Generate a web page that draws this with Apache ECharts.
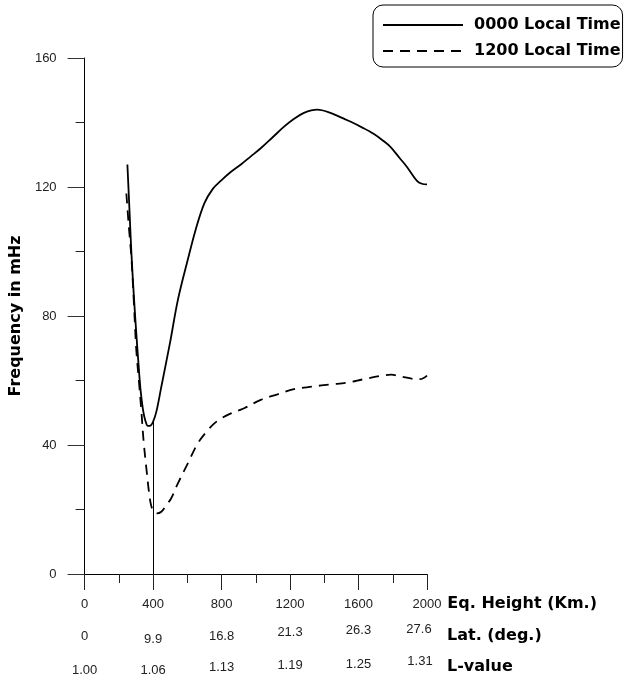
<!DOCTYPE html>
<html>
<head>
<meta charset="utf-8">
<script src="https://cdn.jsdelivr.net/npm/echarts@6/dist/echarts.min.js"></script>
<style>
html,body{margin:0;padding:0;background:#fff;}
#chart{width:625px;height:681px;}
</style>
</head>
<body>
<div id="chart"></div>
<script>
// ---- data ----
var seriesNames = ['0000 Local Time', '1200 Local Time'];

var night = [
  [250,127],[262,113],[273,100],[288,86],[302,74.6],[315,65],[327,57],[341,51],
  [355,47.5],[370,45.9],[385,46],[400,47.2],[420,50.5],[448,58],[500,72],[545,85],
  [603,97.5],[650,107],[700,115],[750,119.5],[797,122],[850,124.5],[913,127],
  [971,129.5],[1029,132],[1100,135.5],[1165,138.7],[1220,141],[1281,143],[1359,144],
  [1436,143],[1500,141.5],[1552,140.3],[1620,138.5],[1688,136.5],[1740,134.5],
  [1785,132.5],[1840,129],[1882,126.3],[1940,122],[1970,121],[2000,120.8]
];

var noon = [
  [244,118],[258,108],[273,98.4],[288,84],[302,69.5],[317,60],[331,51],[345,41],
  [362,32.2],[376,25.5],[390,21],[405,19.4],[422,18.8],[448,19.3],[480,21.5],
  [506,23.5],[545,28.1],[603,34.3],[661,40.5],[710,44],[758,46.7],[800,48.3],
  [855,49.8],[932,51.4],[1029,54],[1126,55.7],[1223,57.3],[1329,58.1],[1436,58.8],
  [1533,59.3],[1630,60.4],[1727,61.4],[1790,61.8],[1850,61.2],[1920,60.5],
  [1960,60.4],[2000,61.5]
];

var dividerX = 400;
var dividerTop = 47.2;

var heightLabels = ['0','400','800','1200','1600','2000'];
var latLabels = ['0','9.9','16.8','21.3','26.3','27.6'];
var lLabels = ['1.00','1.06','1.13','1.19','1.25','1.31'];
var rowNames = ['Eq. Height (Km.)', 'Lat. (deg.)', 'L-value'];
var yTicks = { min: 0, max: 160, step: 40 };
var xTicks = { min: 0, max: 2000, step: 400 };

// ---- styling ----
var FONT = '"Liberation Sans", Arial, Helvetica, sans-serif';
var BOLD_FONT = '"DejaVu Sans", "Liberation Sans", Arial, sans-serif';
var labelColor = '#222';

// per-label nudges (dx, dy in px) to mimic the reference's hand placement
var latNudge = [[0,0],[0,3],[0,0],[0,-4],[0,-6],[-8,-7]];
var lNudge = [[0,3],[0,3],[0,0],[0,-2],[0,-3],[-7,-6]];
var hNudge = [[0,0],[0,0],[0,0],[0,0],[0,0],[0,0]];

function makeRich(nudges) {
  var rich = {};
  nudges.forEach(function (n, i) {
    var dx = n[0], dy = n[1];
    rich['j' + i] = {
      fontFamily: FONT, fontSize: 13, color: labelColor,
      padding: [dy > 0 ? 2 * dy : 0, dx < 0 ? -2 * dx : 0, dy < 0 ? -2 * dy : 0, dx > 0 ? 2 * dx : 0]
    };
  });
  return rich;
}

function labelAxis(labels, nudges, name, offset) {
  return {
    type: 'value', gridIndex: 0, position: 'bottom', offset: offset,
    min: xTicks.min, max: xTicks.max, interval: xTicks.step,
    axisLine: { show: false, onZero: false },
    axisTick: { show: false },
    splitLine: { show: false },
    axisLabel: {
      margin: 0, verticalAlign: 'middle', align: 'center',
      formatter: function (v) {
        var i = Math.round((v - xTicks.min) / xTicks.step);
        return '{j' + i + '|' + labels[i] + '}';
      },
      rich: makeRich(nudges)
    },
    name: name, nameLocation: 'end', nameGap: 20,
    nameTextStyle: { fontFamily: BOLD_FONT, fontSize: 16, fontWeight: 'bold', color: '#000', align: 'left', verticalAlign: 'middle' }
  };
}

var chart = echarts.init(document.getElementById('chart'), null, { renderer: 'canvas' });

var option = {
  animation: false,
  backgroundColor: '#fff',
  textStyle: { fontFamily: FONT },
  grid: { left: 83, right: 198, top: 58, bottom: 107, containLabel: false },
  legend: {
    orient: 'vertical', left: 373, top: 5,
    itemWidth: 80, itemHeight: 14, itemGap: 10,
    padding: [12, 2, 8, 9],
    borderColor: '#000', borderWidth: 1, borderRadius: 10,
    data: seriesNames,
    itemStyle: { opacity: 0, color: 'rgba(0,0,0,0)', borderColor: 'rgba(0,0,0,0)', borderWidth: 0 },
    textStyle: { fontFamily: BOLD_FONT, fontSize: 16, lineHeight: 16, fontWeight: 'bold', color: '#000', padding: [0, 0, 0, 6] }
  },
  xAxis: [
    {
      type: 'value', gridIndex: 0,
      min: xTicks.min, max: xTicks.max, interval: xTicks.step,
      axisLine: { show: true, onZero: true, lineStyle: { color: '#000', width: 1 } },
      axisTick: { show: true, length: 16, lineStyle: { color: '#222', width: 1 } },
      minorTick: { show: true, splitNumber: 2, length: 9, lineStyle: { color: '#222', width: 1 } },
      axisLabel: { show: false },
      splitLine: { show: false }, minorSplitLine: { show: false }
    },
    labelAxis(heightLabels, hNudge, rowNames[0], 30),
    labelAxis(latLabels, latNudge, rowNames[1], 62),
    labelAxis(lLabels, lNudge, rowNames[2], 93)
  ],
  yAxis: {
    type: 'value', min: yTicks.min, max: yTicks.max, interval: yTicks.step,
    axisLine: { show: true, onZero: true, lineStyle: { color: '#000', width: 1 } },
    axisTick: { show: true, length: 17, lineStyle: { color: '#333', width: 1 } },
    minorTick: { show: true, splitNumber: 2, length: 9, lineStyle: { color: '#222', width: 1 } },
    axisLabel: { margin: 28, fontFamily: FONT, fontSize: 13, color: labelColor },
    splitLine: { show: false }, minorSplitLine: { show: false },
    name: 'Frequency in mHz', nameLocation: 'middle', nameGap: 60,
    nameTextStyle: { fontFamily: BOLD_FONT, fontSize: 16, fontWeight: 'bold', color: '#000' }
  },
  series: [
    {
      name: seriesNames[0], type: 'line', data: night, xAxisIndex: 0,
      smooth: 0.35, symbol: 'none',
      lineStyle: { color: '#000', width: 1.8, type: 'solid' },
      itemStyle: { color: '#000' },
      markLine: {
        silent: true, symbol: ['none', 'none'], animation: false,
        label: { show: false },
        lineStyle: { color: '#000', width: 1, type: 'solid' },
        data: [[{ coord: [dividerX, dividerTop] }, { coord: [dividerX, yTicks.min] }]]
      }
    },
    {
      name: seriesNames[1], type: 'line', data: noon, xAxisIndex: 0,
      smooth: 0.35, symbol: 'none',
      lineStyle: { color: '#000', width: 1.8, type: [10, 7] },
      itemStyle: { color: '#000' }
    }
  ]
};

chart.setOption(option);
</script>
</body>
</html>
